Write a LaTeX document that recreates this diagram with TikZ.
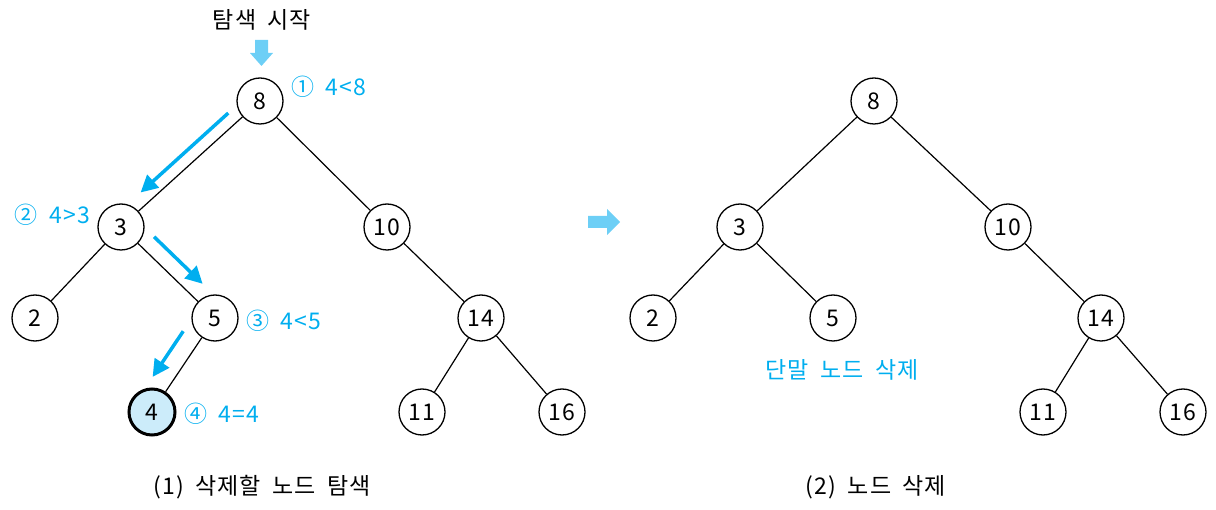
\documentclass[tikz,border=0pt]{standalone}
\usepackage{fontspec}
\setmainfont{Noto Sans CJK KR}[LetterSpace=5, WordSpace=1.8]
\usetikzlibrary{arrows.meta}
\definecolor{stepblue}{RGB}{0,174,239}
\definecolor{lightblue}{RGB}{109,207,246}
\definecolor{foundfill}{RGB}{204,236,250}
\tikzset{
  vertex/.style={circle, draw, line width=1.3pt, minimum size=46pt, inner sep=0pt},
  note/.style={text=stepblue, label distance=4pt},
  flow/.style={draw=stepblue, line width=3.5pt, -{Triangle[length=17pt,width=17pt]}},
  tree/.style={line width=1.2pt}
}
\begin{document}
\begin{tikzpicture}[x=1pt, y=-1pt, font=\fontsize{23}{27}\selectfont]
\useasboundingbox (0,0) rectangle (1216,510);
% (1) search for the node
\node at (262,20) (start) {탐색 시작};
\fill[lightblue] (255,40) -- (268,40) -- (268,53) -- (273,53) -- (261.5,66) -- (250,53) -- (255,53) -- cycle;
\node[vertex, label={[note, yshift=14pt]right:① 4<8}] at (260,101) (a8) {8};
\node[vertex, label={[note, yshift=12pt]left:② 4>3}] at (121,227) (a3) {3};
\node[vertex] at (387,227) (a10) {10};
\node[vertex] at (35,318) (a2) {2};
\node[vertex, label={[note, yshift=-3pt]right:③ 4<5}] at (215,318) (a5) {5};
\node[vertex] at (481,318) (a14) {14};
\node[vertex, fill=foundfill, line width=3pt, label={[note, yshift=-2pt]right:④ 4=4}] at (152,412) (a4) {4};
\node[vertex] at (422,412) (a11) {11};
\node[vertex] at (562,412) (a16) {16};
\draw[tree] (a8) -- (a3) (a8) -- (a10) (a3) -- (a2) (a3) -- (a5) (a5) -- (a4)
  (a10) -- (a14) (a14) -- (a11) (a14) -- (a16);
\draw[flow, shorten <=8pt, shorten >=14pt, transform canvas={shift={(-8.3,-9.2)}}] (a8) -- (a3);
\draw[flow, shorten <=7pt, shorten >=9pt, transform canvas={shift={(11.1,-11.5)}}] (a3) -- (a5);
\draw[flow, shorten <=5pt, shorten >=5pt, transform canvas={shift={(-15.8,-10.6)}}] (a5) -- (a4);
\node at (262,487) (cap1) {(1) 삭제할 노드 탐색};

\fill[lightblue] (588,216) -- (607,216) -- (607,209) -- (620,222) -- (607,235) -- (607,228) -- (588,228) -- cycle;

% (2) delete the node
\node[vertex] at (874,101) (b8) {8};
\node[vertex] at (740,227) (b3) {3};
\node[vertex] at (1008,227) (b10) {10};
\node[vertex] at (653,318) (b2) {2};
\node[vertex] at (833,318) (b5) {5};
\node[vertex] at (1101,318) (b14) {14};
\node[vertex] at (1043,412) (b11) {11};
\node[vertex] at (1183,412) (b16) {16};
\draw[tree] (b8) -- (b3) (b8) -- (b10) (b3) -- (b2) (b3) -- (b5)
  (b10) -- (b14) (b14) -- (b11) (b14) -- (b16);
\node[note] at (842,370) (leafdel) {단말 노드 삭제};
\node at (876,487) (cap2) {(2) 노드 삭제};
\end{tikzpicture}
\end{document}
